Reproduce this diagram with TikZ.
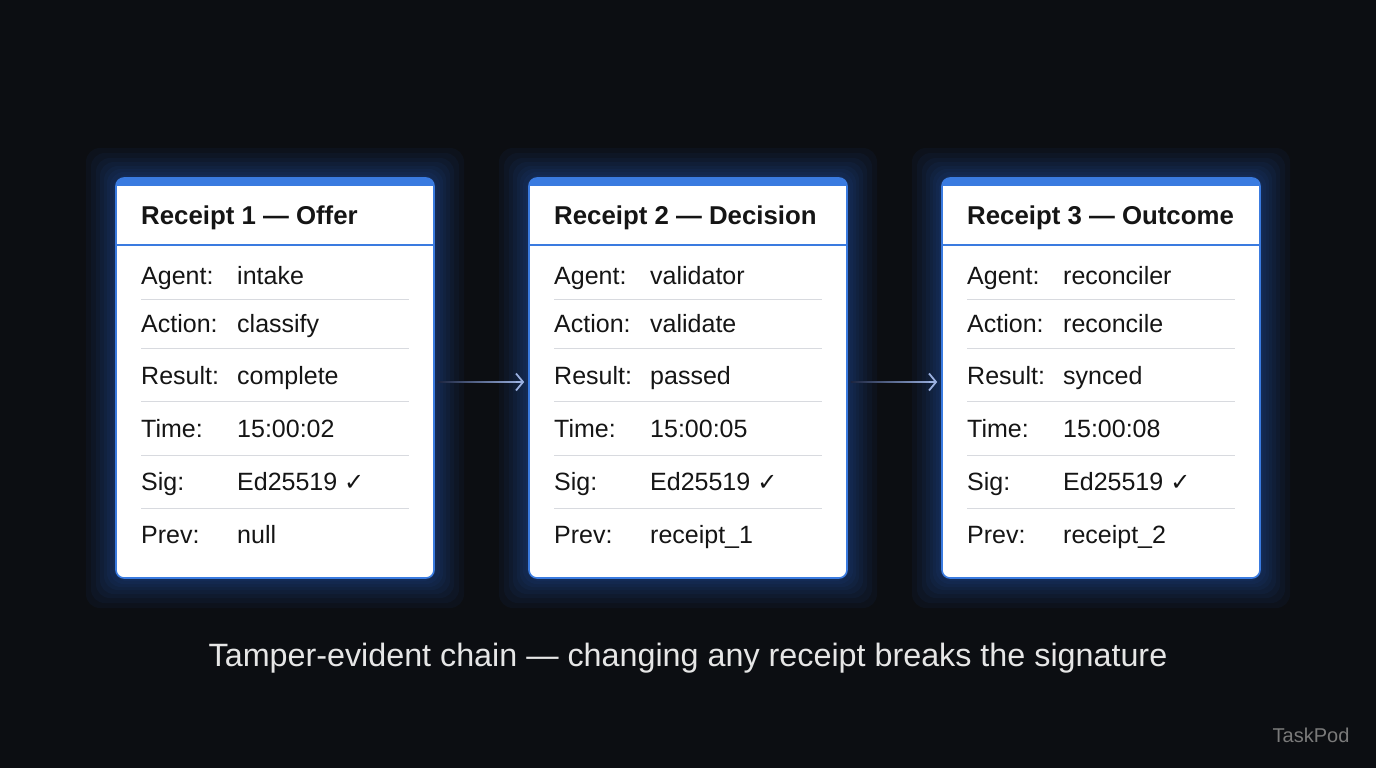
\documentclass[tikz,border=0pt]{standalone}
\usepackage{fontspec}
\setmainfont{Liberation Sans}
\newfontfamily\symfont{DejaVu Sans}
\usetikzlibrary{arrows.meta}
\definecolor{bg}{HTML}{0C0E12}
\definecolor{accent}{HTML}{3A7BE0}
\definecolor{glow}{HTML}{2F6FE0}
\definecolor{sep}{HTML}{D8DADF}
\definecolor{ink}{HTML}{151515}
\definecolor{arrowc}{HTML}{9AB0E0}
\definecolor{shaftl}{HTML}{1C2540}
\definecolor{capc}{HTML}{E6E6E6}
\definecolor{markc}{HTML}{7A7A7A}
\tikzset{
  receipt/.style={draw=accent, line width=1.6pt, fill=white, rounded corners=8pt,
    minimum width=318pt, minimum height=400pt, inner sep=0pt},
  title/.style={font=\bfseries\fontsize{25.8}{30}\selectfont, text=ink, anchor=base west, inner sep=0pt},
  lab/.style={font=\fontsize{25}{29}\selectfont, text=ink, anchor=base west, inner sep=0pt},
  shaft/.style={left color=shaftl, right color=arrowc},
  tip/.style={draw=arrowc, line width=1.6pt, -{Straight Barb[length=7pt,width=17pt,line width=1.8pt]}},
}
\newcommand{\chk}{{\symfont\fontsize{24}{28}\selectfont ✓}}
\begin{document}
\begin{tikzpicture}[x=1pt,y=-1pt]
\fill[bg] (0,0) rectangle (1376,768);
\useasboundingbox (0,0) rectangle (1376,768);
% glows
\foreach \i in {0,1,2} {
  \pgfmathsetmacro{\xl}{116+\i*413}
  \foreach \e in {30,25,20,16,12,9,6,3} {
    \fill[glow, opacity=0.05, rounded corners=14pt]
      (\xl-\e,178-\e) rectangle (\xl+318+\e,578+\e);
  }
}
% boxes
\foreach \i/\t/\ag/\ac/\re/\ti/\pr in {
  1/Offer/intake/classify/complete/15:00:02/null,
  2/Decision/validator/validate/passed/15:00:05/receipt\_1,
  3/Outcome/reconciler/reconcile/synced/15:00:08/receipt\_2} {
  \pgfmathsetmacro{\xl}{116+(\i-1)*413}
  \node[receipt] (b\i) at (\xl+159,378) {};
  \begin{scope}
    \clip[rounded corners=8pt] (\xl,178) rectangle (\xl+318,578);
    \fill[accent] (\xl,177) rectangle (\xl+318,186);
  \end{scope}
  \draw[accent, line width=1.4pt] (\xl,245) -- (\xl+318,245);
  \node[title] (t\i) at (\xl+25,224) {Receipt \i\ — \t};
  \foreach \y in {299,348,401,455,508} {
    \draw[sep, line width=1pt] (\xl+25,\y) -- (\xl+293,\y);
  }
  \node[lab] (la\i) at (\xl+25,284) {Agent:};
  \node[lab] (va\i) at (\xl+121,284) {\ag};
  \node[lab] (lb\i) at (\xl+25,332) {Action:};
  \node[lab] (vb\i) at (\xl+121,332) {\ac};
  \node[lab] (lc\i) at (\xl+25,384) {Result:};
  \node[lab] (vc\i) at (\xl+121,384) {\re};
  \node[lab] (ld\i) at (\xl+25,437) {Time:};
  \node[lab] (vd\i) at (\xl+121,437) {\ti};
  \node[lab] (le\i) at (\xl+25,490) {Sig:};
  \node[lab] (ve\i) at (\xl+121,490) {Ed25519 \chk};
  \node[lab] (lf\i) at (\xl+25,543) {Prev:};
  \node[lab] (vf\i) at (\xl+121,543) {\pr};
}
% connectors
\foreach \a/\b in {b1/b2, b2/b3} {
  \shade[shaft] ([shift={(3pt,-3.2pt)}]\a.east) rectangle ([shift={(-6pt,-4.8pt)}]\b.west);
  \draw[tip] ([shift={(-12pt,-4pt)}]\b.west) -- ([shift={(-4pt,-4pt)}]\b.west);
}
\node[font=\fontsize{32.3}{38}\selectfont, text=capc] (cap) at (688,658)
  {Tamper-evident chain — changing any receipt breaks the signature};
\node[font=\fontsize{20}{24}\selectfont, text=markc] (mark) at (1311,735) {TaskPod};
\end{tikzpicture}
\end{document}
